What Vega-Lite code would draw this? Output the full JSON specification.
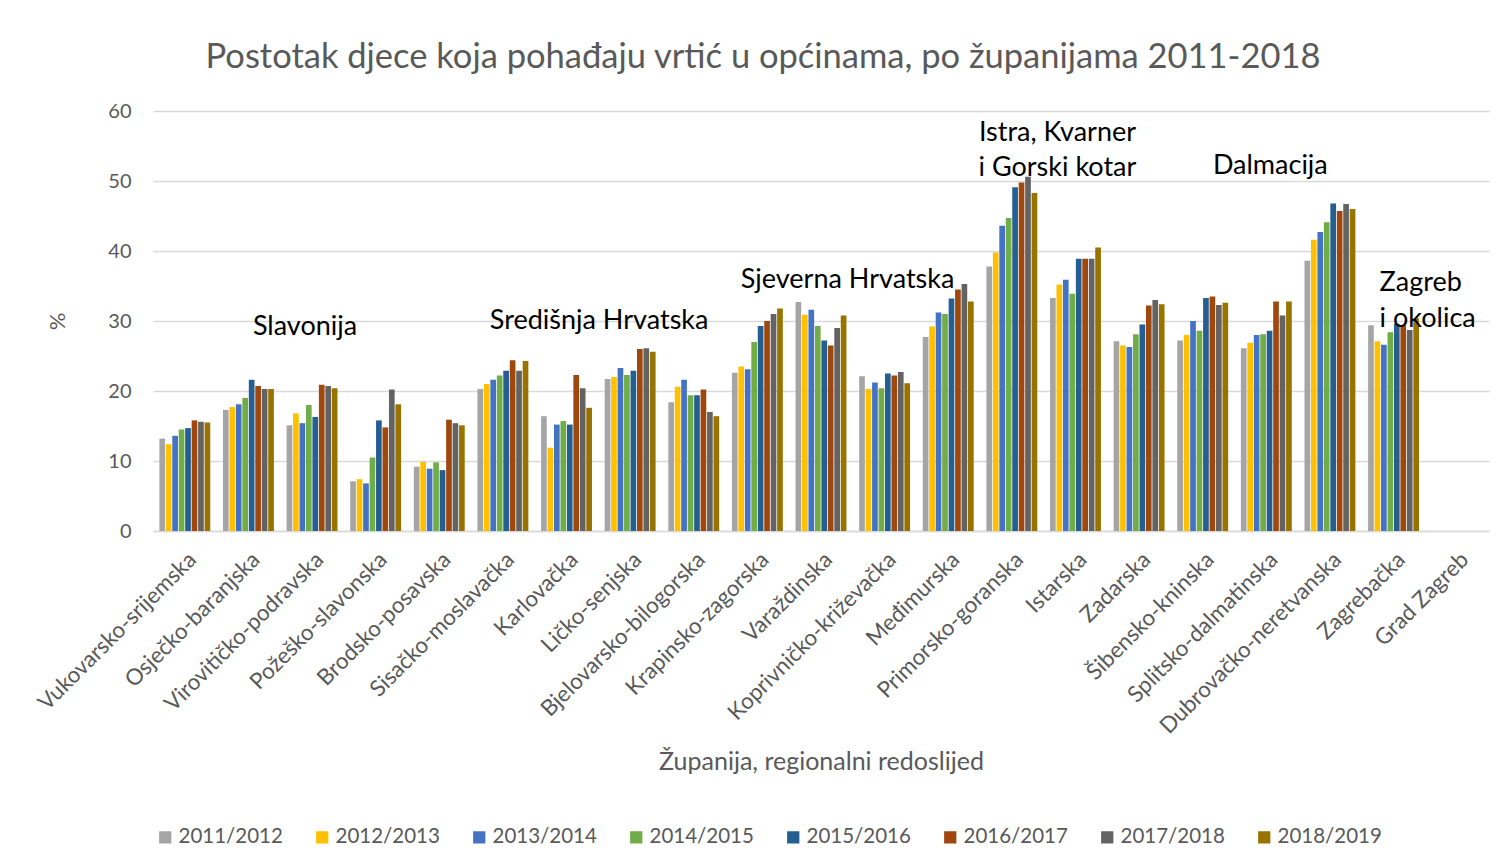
{
  "$schema": "https://vega.github.io/schema/vega-lite/v6.json",
  "width": 1336,
  "height": 420,
  "autosize": "none",
  "padding": {"left": 153, "top": 111, "right": 20, "bottom": 337},
  "background": "white",
  "config": {"view": {"stroke": null}, "font": "Lato"},
  "title": {"text": "Postotak djece koja pohađaju vrtić u općinama, po županijama 2011-2018", "fontSize": 34.5, "fontWeight": "normal", "color": "#595959", "font": "Lato", "dx": -58, "offset": 26},
  "datasets": {
    "bars": [
      {"c":"Vukovarsko-srijemska","y":"2011/2012","v":13.2},{"c":"Vukovarsko-srijemska","y":"2012/2013","v":12.4},{"c":"Vukovarsko-srijemska","y":"2013/2014","v":13.6},{"c":"Vukovarsko-srijemska","y":"2014/2015","v":14.5},{"c":"Vukovarsko-srijemska","y":"2015/2016","v":14.7},{"c":"Vukovarsko-srijemska","y":"2016/2017","v":15.8},{"c":"Vukovarsko-srijemska","y":"2017/2018","v":15.6},{"c":"Vukovarsko-srijemska","y":"2018/2019","v":15.5},
      {"c":"Osječko-baranjska","y":"2011/2012","v":17.3},{"c":"Osječko-baranjska","y":"2012/2013","v":17.7},{"c":"Osječko-baranjska","y":"2013/2014","v":18.1},{"c":"Osječko-baranjska","y":"2014/2015","v":19.0},{"c":"Osječko-baranjska","y":"2015/2016","v":21.6},{"c":"Osječko-baranjska","y":"2016/2017","v":20.7},{"c":"Osječko-baranjska","y":"2017/2018","v":20.3},{"c":"Osječko-baranjska","y":"2018/2019","v":20.3},
      {"c":"Virovitičko-podravska","y":"2011/2012","v":15.1},{"c":"Virovitičko-podravska","y":"2012/2013","v":16.8},{"c":"Virovitičko-podravska","y":"2013/2014","v":15.4},{"c":"Virovitičko-podravska","y":"2014/2015","v":18.0},{"c":"Virovitičko-podravska","y":"2015/2016","v":16.3},{"c":"Virovitičko-podravska","y":"2016/2017","v":20.9},{"c":"Virovitičko-podravska","y":"2017/2018","v":20.7},{"c":"Virovitičko-podravska","y":"2018/2019","v":20.4},
      {"c":"Požeško-slavonska","y":"2011/2012","v":7.1},{"c":"Požeško-slavonska","y":"2012/2013","v":7.4},{"c":"Požeško-slavonska","y":"2013/2014","v":6.8},{"c":"Požeško-slavonska","y":"2014/2015","v":10.5},{"c":"Požeško-slavonska","y":"2015/2016","v":15.8},{"c":"Požeško-slavonska","y":"2016/2017","v":14.8},{"c":"Požeško-slavonska","y":"2017/2018","v":20.2},{"c":"Požeško-slavonska","y":"2018/2019","v":18.1},
      {"c":"Brodsko-posavska","y":"2011/2012","v":9.2},{"c":"Brodsko-posavska","y":"2012/2013","v":9.9},{"c":"Brodsko-posavska","y":"2013/2014","v":8.9},{"c":"Brodsko-posavska","y":"2014/2015","v":9.8},{"c":"Brodsko-posavska","y":"2015/2016","v":8.7},{"c":"Brodsko-posavska","y":"2016/2017","v":15.9},{"c":"Brodsko-posavska","y":"2017/2018","v":15.4},{"c":"Brodsko-posavska","y":"2018/2019","v":15.1},
      {"c":"Sisačko-moslavačka","y":"2011/2012","v":20.3},{"c":"Sisačko-moslavačka","y":"2012/2013","v":21.0},{"c":"Sisačko-moslavačka","y":"2013/2014","v":21.6},{"c":"Sisačko-moslavačka","y":"2014/2015","v":22.2},{"c":"Sisačko-moslavačka","y":"2015/2016","v":22.9},{"c":"Sisačko-moslavačka","y":"2016/2017","v":24.4},{"c":"Sisačko-moslavačka","y":"2017/2018","v":22.9},{"c":"Sisačko-moslavačka","y":"2018/2019","v":24.3},
      {"c":"Karlovačka","y":"2011/2012","v":16.4},{"c":"Karlovačka","y":"2012/2013","v":11.9},{"c":"Karlovačka","y":"2013/2014","v":15.2},{"c":"Karlovačka","y":"2014/2015","v":15.7},{"c":"Karlovačka","y":"2015/2016","v":15.2},{"c":"Karlovačka","y":"2016/2017","v":22.3},{"c":"Karlovačka","y":"2017/2018","v":20.4},{"c":"Karlovačka","y":"2018/2019","v":17.6},
      {"c":"Ličko-senjska","y":"2011/2012","v":21.7},{"c":"Ličko-senjska","y":"2012/2013","v":22.0},{"c":"Ličko-senjska","y":"2013/2014","v":23.3},{"c":"Ličko-senjska","y":"2014/2015","v":22.3},{"c":"Ličko-senjska","y":"2015/2016","v":22.9},{"c":"Ličko-senjska","y":"2016/2017","v":26.0},{"c":"Ličko-senjska","y":"2017/2018","v":26.1},{"c":"Ličko-senjska","y":"2018/2019","v":25.6},
      {"c":"Bjelovarsko-bilogorska","y":"2011/2012","v":18.4},{"c":"Bjelovarsko-bilogorska","y":"2012/2013","v":20.6},{"c":"Bjelovarsko-bilogorska","y":"2013/2014","v":21.6},{"c":"Bjelovarsko-bilogorska","y":"2014/2015","v":19.4},{"c":"Bjelovarsko-bilogorska","y":"2015/2016","v":19.4},{"c":"Bjelovarsko-bilogorska","y":"2016/2017","v":20.2},{"c":"Bjelovarsko-bilogorska","y":"2017/2018","v":17.0},{"c":"Bjelovarsko-bilogorska","y":"2018/2019","v":16.4},
      {"c":"Krapinsko-zagorska","y":"2011/2012","v":22.6},{"c":"Krapinsko-zagorska","y":"2012/2013","v":23.5},{"c":"Krapinsko-zagorska","y":"2013/2014","v":23.1},{"c":"Krapinsko-zagorska","y":"2014/2015","v":27.0},{"c":"Krapinsko-zagorska","y":"2015/2016","v":29.3},{"c":"Krapinsko-zagorska","y":"2016/2017","v":30.0},{"c":"Krapinsko-zagorska","y":"2017/2018","v":31.0},{"c":"Krapinsko-zagorska","y":"2018/2019","v":31.8},
      {"c":"Varaždinska","y":"2011/2012","v":32.7},{"c":"Varaždinska","y":"2012/2013","v":30.9},{"c":"Varaždinska","y":"2013/2014","v":31.6},{"c":"Varaždinska","y":"2014/2015","v":29.3},{"c":"Varaždinska","y":"2015/2016","v":27.2},{"c":"Varaždinska","y":"2016/2017","v":26.5},{"c":"Varaždinska","y":"2017/2018","v":29.0},{"c":"Varaždinska","y":"2018/2019","v":30.8},
      {"c":"Koprivničko-križevačka","y":"2011/2012","v":22.1},{"c":"Koprivničko-križevačka","y":"2012/2013","v":20.3},{"c":"Koprivničko-križevačka","y":"2013/2014","v":21.2},{"c":"Koprivničko-križevačka","y":"2014/2015","v":20.4},{"c":"Koprivničko-križevačka","y":"2015/2016","v":22.5},{"c":"Koprivničko-križevačka","y":"2016/2017","v":22.2},{"c":"Koprivničko-križevačka","y":"2017/2018","v":22.7},{"c":"Koprivničko-križevačka","y":"2018/2019","v":21.1},
      {"c":"Međimurska","y":"2011/2012","v":27.7},{"c":"Međimurska","y":"2012/2013","v":29.2},{"c":"Međimurska","y":"2013/2014","v":31.2},{"c":"Međimurska","y":"2014/2015","v":31.0},{"c":"Međimurska","y":"2015/2016","v":33.2},{"c":"Međimurska","y":"2016/2017","v":34.5},{"c":"Međimurska","y":"2017/2018","v":35.3},{"c":"Međimurska","y":"2018/2019","v":32.8},
      {"c":"Primorsko-goranska","y":"2011/2012","v":37.8},{"c":"Primorsko-goranska","y":"2012/2013","v":39.8},{"c":"Primorsko-goranska","y":"2013/2014","v":43.6},{"c":"Primorsko-goranska","y":"2014/2015","v":44.7},{"c":"Primorsko-goranska","y":"2015/2016","v":49.1},{"c":"Primorsko-goranska","y":"2016/2017","v":49.8},{"c":"Primorsko-goranska","y":"2017/2018","v":50.6},{"c":"Primorsko-goranska","y":"2018/2019","v":48.3},
      {"c":"Istarska","y":"2011/2012","v":33.3},{"c":"Istarska","y":"2012/2013","v":35.2},{"c":"Istarska","y":"2013/2014","v":35.9},{"c":"Istarska","y":"2014/2015","v":33.9},{"c":"Istarska","y":"2015/2016","v":38.9},{"c":"Istarska","y":"2016/2017","v":38.9},{"c":"Istarska","y":"2017/2018","v":38.9},{"c":"Istarska","y":"2018/2019","v":40.5},
      {"c":"Zadarska","y":"2011/2012","v":27.1},{"c":"Zadarska","y":"2012/2013","v":26.5},{"c":"Zadarska","y":"2013/2014","v":26.3},{"c":"Zadarska","y":"2014/2015","v":28.1},{"c":"Zadarska","y":"2015/2016","v":29.5},{"c":"Zadarska","y":"2016/2017","v":32.2},{"c":"Zadarska","y":"2017/2018","v":33.0},{"c":"Zadarska","y":"2018/2019","v":32.4},
      {"c":"Šibensko-kninska","y":"2011/2012","v":27.2},{"c":"Šibensko-kninska","y":"2012/2013","v":28.0},{"c":"Šibensko-kninska","y":"2013/2014","v":30.0},{"c":"Šibensko-kninska","y":"2014/2015","v":28.6},{"c":"Šibensko-kninska","y":"2015/2016","v":33.3},{"c":"Šibensko-kninska","y":"2016/2017","v":33.5},{"c":"Šibensko-kninska","y":"2017/2018","v":32.3},{"c":"Šibensko-kninska","y":"2018/2019","v":32.6},
      {"c":"Splitsko-dalmatinska","y":"2011/2012","v":26.1},{"c":"Splitsko-dalmatinska","y":"2012/2013","v":26.9},{"c":"Splitsko-dalmatinska","y":"2013/2014","v":28.0},{"c":"Splitsko-dalmatinska","y":"2014/2015","v":28.1},{"c":"Splitsko-dalmatinska","y":"2015/2016","v":28.6},{"c":"Splitsko-dalmatinska","y":"2016/2017","v":32.8},{"c":"Splitsko-dalmatinska","y":"2017/2018","v":30.8},{"c":"Splitsko-dalmatinska","y":"2018/2019","v":32.8},
      {"c":"Dubrovačko-neretvanska","y":"2011/2012","v":38.6},{"c":"Dubrovačko-neretvanska","y":"2012/2013","v":41.6},{"c":"Dubrovačko-neretvanska","y":"2013/2014","v":42.7},{"c":"Dubrovačko-neretvanska","y":"2014/2015","v":44.1},{"c":"Dubrovačko-neretvanska","y":"2015/2016","v":46.8},{"c":"Dubrovačko-neretvanska","y":"2016/2017","v":45.7},{"c":"Dubrovačko-neretvanska","y":"2017/2018","v":46.7},{"c":"Dubrovačko-neretvanska","y":"2018/2019","v":46.0},
      {"c":"Zagrebačka","y":"2011/2012","v":29.4},{"c":"Zagrebačka","y":"2012/2013","v":27.1},{"c":"Zagrebačka","y":"2013/2014","v":26.6},{"c":"Zagrebačka","y":"2014/2015","v":28.4},{"c":"Zagrebačka","y":"2015/2016","v":29.6},{"c":"Zagrebačka","y":"2016/2017","v":29.4},{"c":"Zagrebačka","y":"2017/2018","v":28.7},{"c":"Zagrebačka","y":"2018/2019","v":30.4}
    ]
  },
  "layer": [
    {
      "data": {"name": "bars"},
      "mark": {"type": "bar"},
      "encoding": {
        "x": {
          "field": "c", "type": "nominal",
          "scale": {"domain": ["Vukovarsko-srijemska","Osječko-baranjska","Virovitičko-podravska","Požeško-slavonska","Brodsko-posavska","Sisačko-moslavačka","Karlovačka","Ličko-senjska","Bjelovarsko-bilogorska","Krapinsko-zagorska","Varaždinska","Koprivničko-križevačka","Međimurska","Primorsko-goranska","Istarska","Zadarska","Šibensko-kninska","Splitsko-dalmatinska","Dubrovačko-neretvanska","Zagrebačka","Grad Zagreb"], "paddingInner": 0.2, "paddingOuter": 0.1},
          "axis": {"title": "Županija, regionalni redoslijed", "titleFontSize": 25, "titleFontWeight": "normal", "titleColor": "#595959", "titleFont": "Lato", "titlePadding": 18, "labelAngle": -45, "labelFontSize": 22.4, "labelColor": "#595959", "labelFont": "Lato", "labelPadding": 17, "ticks": false, "domainColor": "#D9D9D9", "domainWidth": 1.5, "labelLimit": 400}
        },
        "xOffset": {"field": "y", "type": "nominal", "scale": {"paddingInner": 0.12}},
        "y": {
          "field": "v", "type": "quantitative",
          "scale": {"domain": [0, 60]},
          "axis": {"title": "%", "values": [0,10,20,30,40,50,60], "titleFontSize": 22, "titleFontWeight": "normal", "titleColor": "#595959", "titleFont": "Lato", "titlePadding": 38, "labelFontSize": 20, "labelColor": "#595959", "labelFont": "Lato", "labelPadding": 22, "ticks": false, "domain": false, "gridColor": "#D9D9D9", "gridWidth": 1.5}
        },
        "color": {
          "field": "y", "type": "nominal",
          "scale": {"domain": ["2011/2012","2012/2013","2013/2014","2014/2015","2015/2016","2016/2017","2017/2018","2018/2019"], "range": ["#A5A5A5","#FFC000","#4472C4","#70AD47","#255E91","#9E480E","#636363","#997300"]},
          "legend": {"title": null, "orient": "none", "legendX": 2, "legendY": 716, "direction": "horizontal", "columns": 8, "symbolType": "square", "symbolSize": 150, "symbolStrokeWidth": 0, "labelFontSize": 20.5, "labelColor": "#595959", "labelFont": "Lato", "labelOffset": 3, "columnPadding": 29}
        }
      }
    },
    {
      "data": {"values": [{"c": "Virovitičko-podravska", "v": 29.1, "t": "Slavonija"}]},
      "mark": {"type": "text", "fontSize": 27, "font": "Lato", "color": "black", "baseline": "middle", "dx": -7},
      "encoding": {"x": {"field": "c", "type": "nominal"}, "y": {"field": "v", "type": "quantitative"}, "text": {"field": "t"}}
    },
    {
      "data": {"values": [{"c": "Ličko-senjska", "v": 30.0, "t": "Središnja Hrvatska"}]},
      "mark": {"type": "text", "fontSize": 27, "font": "Lato", "color": "black", "baseline": "middle", "dx": -31},
      "encoding": {"x": {"field": "c", "type": "nominal"}, "y": {"field": "v", "type": "quantitative"}, "text": {"field": "t"}}
    },
    {
      "data": {"values": [{"c": "Koprivničko-križevačka", "v": 35.9, "t": "Sjeverna Hrvatska"}]},
      "mark": {"type": "text", "fontSize": 27, "font": "Lato", "color": "black", "baseline": "middle", "dx": -37},
      "encoding": {"x": {"field": "c", "type": "nominal"}, "y": {"field": "v", "type": "quantitative"}, "text": {"field": "t"}}
    },
    {
      "data": {"values": [{"c": "Istarska", "v": 56.9, "t": "Istra, Kvarner\ni Gorski kotar"}]},
      "mark": {"type": "text", "fontSize": 27, "font": "Lato", "color": "black", "baseline": "middle", "dx": -18, "lineBreak": "\n", "lineHeight": 35},
      "encoding": {"x": {"field": "c", "type": "nominal"}, "y": {"field": "v", "type": "quantitative"}, "text": {"field": "t"}}
    },
    {
      "data": {"values": [{"c": "Splitsko-dalmatinska", "v": 52.1, "t": "Dalmacija"}]},
      "mark": {"type": "text", "fontSize": 27, "font": "Lato", "color": "black", "baseline": "middle", "dx": 4},
      "encoding": {"x": {"field": "c", "type": "nominal"}, "y": {"field": "v", "type": "quantitative"}, "text": {"field": "t"}}
    },
    {
      "data": {"values": [{"c": "Zagrebačka", "v": 35.4, "t": "Zagreb\ni okolica"}]},
      "mark": {"type": "text", "fontSize": 27, "font": "Lato", "color": "black", "baseline": "middle", "align": "left", "dx": -14, "lineBreak": "\n", "lineHeight": 36},
      "encoding": {"x": {"field": "c", "type": "nominal"}, "y": {"field": "v", "type": "quantitative"}, "text": {"field": "t"}}
    }
  ]
}
